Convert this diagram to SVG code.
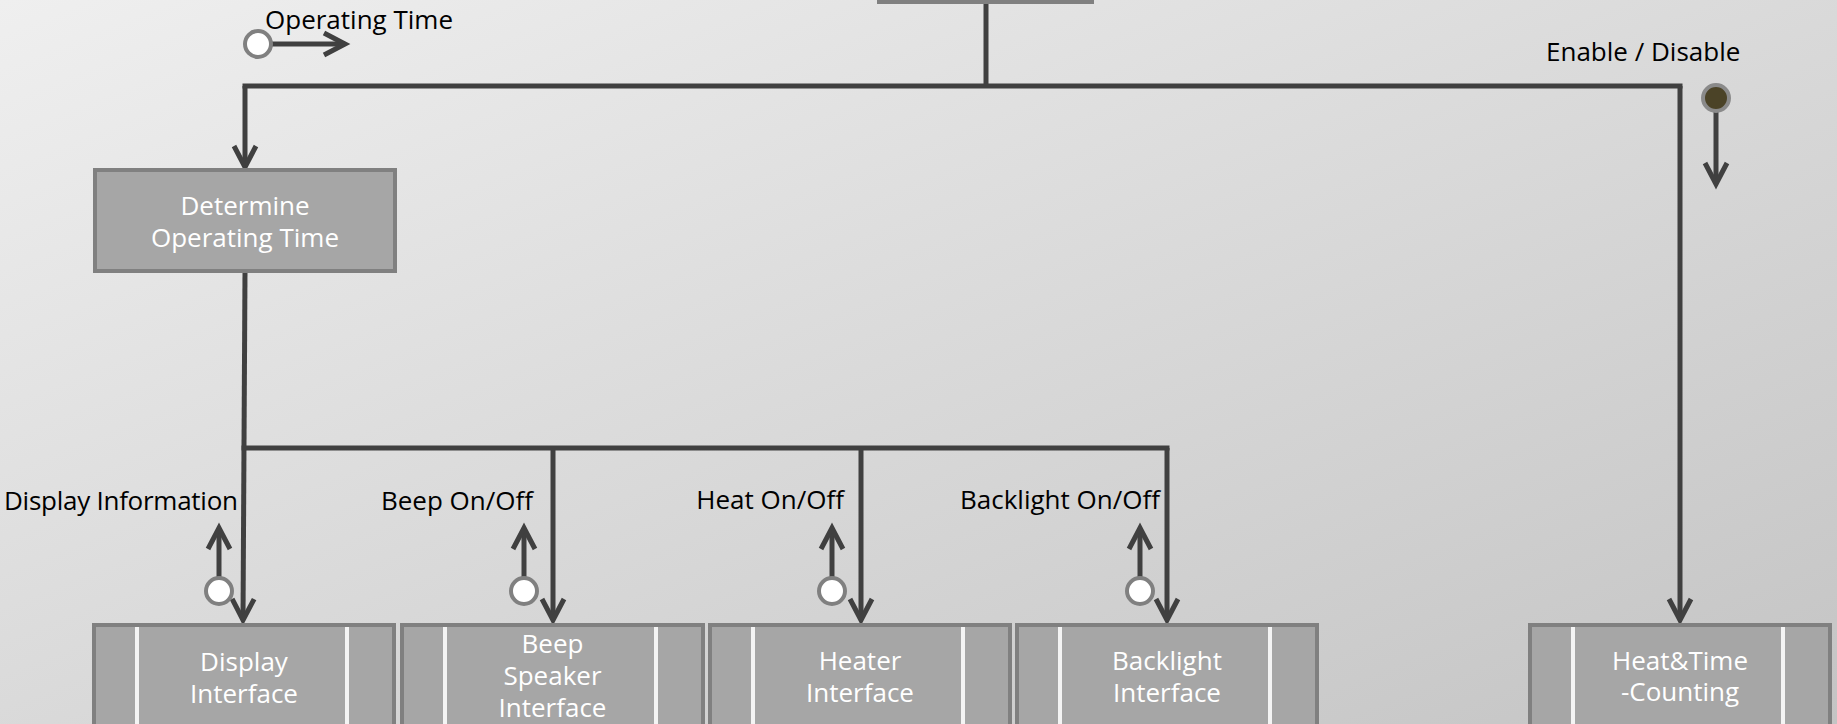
<svg xmlns="http://www.w3.org/2000/svg" width="1837" height="724" viewBox="0 0 1837 724">
<defs>
<linearGradient id="bg" x1="0" y1="0" x2="1" y2="1">
<stop offset="0" stop-color="#efefef"/>
<stop offset="1" stop-color="#c4c4c4"/>
</linearGradient>
<marker id="arr" markerUnits="userSpaceOnUse" markerWidth="40" markerHeight="40" viewBox="-30 -20 40 40" refX="0" refY="0" orient="auto" overflow="visible">
<path d="M-21,-11 L0,0 L-21,11" fill="none" stroke="#404040" stroke-width="5"/>
</marker>
</defs>
<style>
.box{fill:#a6a6a6;stroke:#808080;stroke-width:4}
.bar{stroke:#f4f4f4;stroke-width:4}
.bt{font-family:"Open Sans","Liberation Sans",sans-serif;font-size:26px;fill:#ffffff;text-anchor:middle}
.lb{font-family:"Open Sans","Liberation Sans",sans-serif;font-size:26px;fill:#000000}
.c{fill:none;stroke:#404040;stroke-width:5}
.ca{fill:none;stroke:#404040;stroke-width:5;marker-end:url(#arr)}
.port{fill:#ffffff;stroke:#808080;stroke-width:4}
</style>
<rect x="0" y="0" width="1837" height="724" fill="url(#bg)"/>

<g id="connectors">
<path class="c" d="M986,3 V86"/>
<path class="c" d="M245,86 H1680" stroke-linecap="square"/>
<path class="ca" d="M245,86 V167"/>
<path class="ca" d="M1680,86 V620"/>
<path class="ca" d="M245,272 L243,620"/>
<path class="c" d="M244,448 H1167" stroke-linecap="square"/>
<path class="ca" d="M553,448 V620"/>
<path class="ca" d="M861,448 V620"/>
<path class="ca" d="M1167,448 V620"/>
<path class="ca" d="M272,44 H345"/>
<path class="ca" d="M1716,112 V184"/>
<path class="ca" d="M219,580 V528"/>
<path class="ca" d="M524,580 V528"/>
<path class="ca" d="M832,580 V528"/>
<path class="ca" d="M1140,580 V528"/>
</g>

<g id="top-node">
<rect class="box" x="879" y="-60" width="213" height="62"/>
</g>

<g id="determine">
<rect class="box" x="95" y="170" width="300" height="101"/>
<text class="bt" x="245" y="215">Determine</text>
<text class="bt" x="245" y="247">Operating Time</text>
</g>

<g id="display-interface">
<rect class="box" x="94" y="625" width="300" height="130"/>
<line class="bar" x1="137" y1="627" x2="137" y2="724"/>
<line class="bar" x1="347" y1="627" x2="347" y2="724"/>
<text class="bt" x="244" y="671">Display</text>
<text class="bt" x="244" y="703">Interface</text>
</g>

<g id="beep-interface">
<rect class="box" x="402" y="625" width="301" height="130"/>
<line class="bar" x1="445" y1="627" x2="445" y2="724"/>
<line class="bar" x1="656" y1="627" x2="656" y2="724"/>
<text class="bt" x="552.5" y="653">Beep</text>
<text class="bt" x="552.5" y="685">Speaker</text>
<text class="bt" x="552.5" y="717">Interface</text>
</g>

<g id="heater-interface">
<rect class="box" x="710" y="625" width="300" height="130"/>
<line class="bar" x1="753" y1="627" x2="753" y2="724"/>
<line class="bar" x1="963" y1="627" x2="963" y2="724"/>
<text class="bt" x="860" y="670">Heater</text>
<text class="bt" x="860" y="702">Interface</text>
</g>

<g id="backlight-interface">
<rect class="box" x="1017" y="625" width="300" height="130"/>
<line class="bar" x1="1060" y1="627" x2="1060" y2="724"/>
<line class="bar" x1="1270" y1="627" x2="1270" y2="724"/>
<text class="bt" x="1167" y="670">Backlight</text>
<text class="bt" x="1167" y="702">Interface</text>
</g>

<g id="heat-time-counting">
<rect class="box" x="1530" y="625" width="300" height="130"/>
<line class="bar" x1="1573" y1="627" x2="1573" y2="724"/>
<line class="bar" x1="1783" y1="627" x2="1783" y2="724"/>
<text class="bt" x="1680" y="670">Heat&amp;Time</text>
<text class="bt" x="1680" y="701">-Counting</text>
</g>

<g id="port-operating-time">
<circle class="port" cx="258" cy="44" r="13"/>
<text class="lb" x="265" y="29">Operating Time</text>
</g>
<g id="port-enable-disable">
<circle cx="1716" cy="98" r="13" fill="#4b4327" stroke="#8a8a8a" stroke-width="4"/>
<text class="lb" x="1546" y="61">Enable / Disable</text>
</g>
<g id="port-display-information">
<circle class="port" cx="219" cy="591" r="13"/>
<text class="lb" x="4" y="510" textLength="234" lengthAdjust="spacing">Display Information</text>
</g>
<g id="port-beep">
<circle class="port" cx="524" cy="591" r="13"/>
<text class="lb" x="533" y="510" text-anchor="end">Beep On/Off</text>
</g>
<g id="port-heat">
<circle class="port" cx="832" cy="591" r="13"/>
<text class="lb" x="844" y="509" text-anchor="end">Heat On/Off</text>
</g>
<g id="port-backlight">
<circle class="port" cx="1140" cy="591" r="13"/>
<text class="lb" x="1160" y="509" text-anchor="end">Backlight On/Off</text>
</g>
</svg>
